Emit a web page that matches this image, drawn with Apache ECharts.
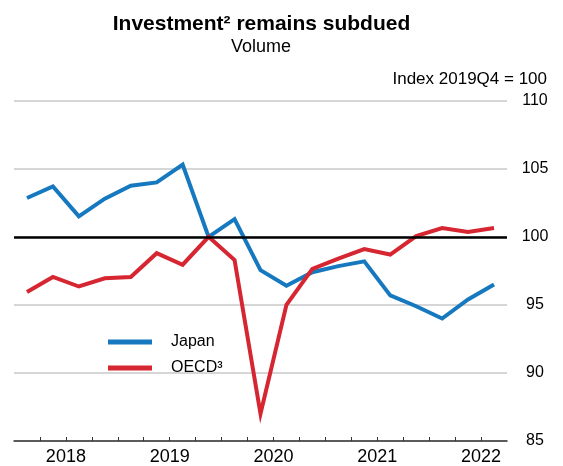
<!DOCTYPE html>
<html>
<head>
<meta charset="utf-8">
<script src="https://cdn.jsdelivr.net/npm/echarts@6/dist/echarts.min.js"></script>
<style>
  html, body { margin: 0; padding: 0; background: #fff; }
  #chart { width: 563px; height: 466px; }
</style>
</head>
<body>
<div id="chart"></div>
<script>
const quarters = ['2018Q1','2018Q2','2018Q3','2018Q4','2019Q1','2019Q2','2019Q3','2019Q4',
  '2020Q1','2020Q2','2020Q3','2020Q4','2021Q1','2021Q2','2021Q3','2021Q4','2022Q1','2022Q2','2022Q3'];
const japan = [102.85, 103.7, 101.5, 102.8, 103.75, 104.0, 105.3, 100.0, 101.3, 97.55,
  96.4, 97.4, 97.85, 98.2, 95.7, 94.9, 94.0, 95.4, 96.5];
const oecd = [95.95, 97.05, 96.35, 96.95, 97.05, 98.8, 97.95, 100.0, 98.3, 87.0,
  95.0, 97.65, 98.4, 99.1, 98.7, 100.05, 100.65, 100.35, 100.65];
const yearLabels = ['2018', '2019', '2020', '2021', '2022'];
const seriesNames = ['Japan', 'OECD³'];
const baseline = 100;

const FONT = "'Liberation Sans', Arial, sans-serif";
const chart = echarts.init(document.getElementById('chart'), null, { renderer: 'canvas' });

const toPoints = arr => arr.map((v, i) => [i, v]);
// ticks at the boundaries between quarters; year labels at mid-year boundaries
const tickValues = quarters.slice(1).map((q, i) => i + 0.5);
const labelValues = yearLabels.map((y, k) => 1.5 + 4 * k);

chart.setOption({
  animation: false,
  backgroundColor: '#fff',
  textStyle: { fontFamily: FONT, color: '#000' },
  grid: { left: 14, right: 56, top: 100.7, bottom: 23.5, containLabel: false },
  graphic: [
    { type: 'text', x: 261.5, y: 24.5, style: { text: 'Investment² remains subdued', font: "bold 21px " + FONT, fill: '#000', textAlign: 'center', textVerticalAlign: 'middle' } },
    { type: 'text', x: 261, y: 47.5, style: { text: 'Volume', font: "18px " + FONT, fill: '#000', textAlign: 'center', textVerticalAlign: 'middle' } },
    { type: 'text', x: 547, y: 79.5, style: { text: 'Index 2019Q4 = 100', font: "17px " + FONT, fill: '#000', textAlign: 'right', textVerticalAlign: 'middle' } }
  ],
  legend: {
    data: seriesNames,
    orient: 'vertical',
    left: 103,
    top: 329,
    itemWidth: 44,
    itemHeight: 5,
    itemGap: 10,
    icon: 'rect',
    formatter: name => '{t|' + name + '}',
    textStyle: {
      fontFamily: FONT, fontSize: 16, color: '#000',
      rich: { t: { fontFamily: FONT, fontSize: 16, color: '#000', padding: [0, 0, 0, 14] } }
    }
  },
  xAxis: {
    type: 'value',
    min: -0.5,
    max: quarters.length - 0.5,
    interval: 1,
    axisLine: { show: true, onZero: false, lineStyle: { color: '#333', width: 1.5 } },
    axisTick: { show: true, inside: true, length: 4, customValues: tickValues, lineStyle: { color: '#333', width: 1 } },
    splitLine: { show: false },
    axisLabel: {
      fontFamily: FONT, fontSize: 18, color: '#000', margin: 7,
      customValues: labelValues,
      formatter: v => {
        const k = Math.round((v - 1.5) / 4 * 1000) / 1000;
        return (Number.isInteger(k) && k >= 0 && k < yearLabels.length) ? yearLabels[k] : '';
      }
    }
  },
  yAxis: {
    type: 'value',
    position: 'right',
    min: 85,
    max: 110,
    interval: 5,
    axisLine: { show: false },
    axisTick: { show: false },
    splitLine: { show: true, lineStyle: { color: '#c8c8c8', width: 1.5 } },
    axisLabel: { fontFamily: FONT, fontSize: 16, color: '#000', align: 'center', margin: 28 }
  },
  series: [
    {
      name: 'ref', type: 'line', data: [], z: 1, silent: true,
      markLine: {
        silent: true, symbol: ['none', 'none'], label: { show: false },
        lineStyle: { color: '#000', width: 2.5, type: 'solid' },
        data: [{ yAxis: baseline }]
      }
    },
    {
      name: seriesNames[0], type: 'line', data: toPoints(japan), symbol: 'none', z: 3,
      color: '#1679c0',
      lineStyle: { color: '#1679c0', width: 4, join: 'miter' }
    },
    {
      name: seriesNames[1], type: 'line', data: toPoints(oecd), symbol: 'none', z: 4,
      color: '#d62631',
      lineStyle: { color: '#d62631', width: 4, join: 'miter' }
    }
  ]
});
</script>
</body>
</html>
